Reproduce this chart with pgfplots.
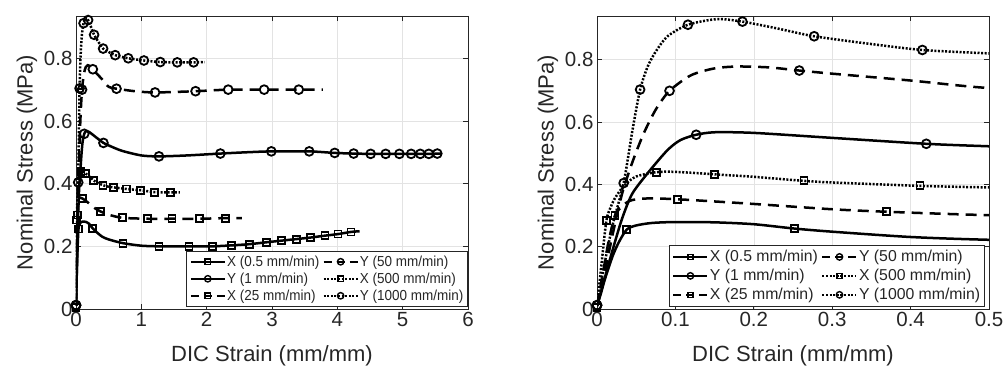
\documentclass[border=0pt]{standalone}
\usepackage{fontspec}
\setmainfont{Liberation Sans}
\newfontfamily\narrowfont[FakeStretch=0.93]{Liberation Sans}
\usepackage{pgfplots}
\pgfplotsset{compat=1.18}
\usepackage{pgfplotstable}
\definecolor{txt}{gray}{0.15}

% ---- data: line points ----
\pgfplotstableread{
x y
0 0.01
0.005 0.05
0.01 0.095
0.02 0.17
0.028 0.215
0.038 0.255
0.05 0.268
0.07 0.276
0.1 0.279
0.15 0.278
0.2 0.272
0.252 0.258
0.3 0.248
0.4 0.231
0.5 0.222
0.72 0.21
1.0 0.202
1.27 0.2
1.73 0.2
2.09 0.2
2.38 0.203
2.66 0.207
2.92 0.213
3.14 0.218
3.37 0.223
3.59 0.228
3.81 0.234
4.01 0.239
4.21 0.246
4.34 0.248
}\XaL
\pgfplotstableread{
x y
0 0.005
0.038 0.255
0.252 0.258
0.72 0.21
1.27 0.2
1.73 0.2
2.09 0.2
2.38 0.203
2.66 0.207
2.92 0.213
3.14 0.218
3.37 0.223
3.59 0.228
3.81 0.234
4.01 0.239
4.21 0.246
}\XaM

\pgfplotstableread{
x y
0 0.01
0.01 0.1
0.02 0.19
0.032 0.29
0.045 0.37
0.066 0.44
0.09 0.51
0.1065 0.542
0.1265 0.559
0.15 0.567
0.2 0.565
0.3 0.549
0.42 0.530
0.5 0.522
0.7 0.505
1.0 0.49
1.27 0.487
1.7 0.49
2.21 0.496
2.6 0.5
2.99 0.503
3.57 0.503
3.96 0.498
4.25 0.496
4.51 0.495
4.95 0.495
5.4 0.495
5.59 0.496
}\YaL
\pgfplotstableread{
x y
0 0.012
0.1265 0.559
0.42 0.530
1.27 0.487
2.21 0.496
2.99 0.503
3.57 0.503
3.96 0.498
4.25 0.496
4.51 0.495
4.74 0.495
4.95 0.495
5.13 0.495
5.27 0.495
5.40 0.495
5.53 0.496
}\YaM

\pgfplotstableread{
x y
0 0.01
0.005 0.08
0.01 0.15
0.015 0.22
0.023 0.30
0.03 0.325
0.04 0.345
0.05 0.352
0.07 0.355
0.103 0.352
0.15 0.345
0.2 0.337
0.3 0.32
0.369 0.312
0.5 0.301
0.71 0.291
1.1 0.288
1.47 0.288
1.89 0.288
2.29 0.29
2.54 0.29
}\XbL
\pgfplotstableread{
x y
0 0.005
0.023 0.30
0.103 0.352
0.369 0.312
0.71 0.291
1.1 0.288
1.47 0.288
1.89 0.288
2.29 0.29
}\XbM

\pgfplotstableread{
x y
0 0.01
0.01 0.12
0.02 0.24
0.032 0.37
0.045 0.47
0.059 0.56
0.075 0.64
0.0925 0.70
0.12 0.75
0.15 0.772
0.18 0.778
0.22 0.775
0.258 0.765
0.3 0.755
0.4 0.733
0.5 0.709
0.62 0.703
0.9 0.695
1.21 0.691
1.83 0.695
2.33 0.70
2.88 0.70
3.41 0.70
3.78 0.70
}\YbL
\pgfplotstableread{
x y
0 0.012
0.0925 0.70
0.258 0.765
0.62 0.703
1.21 0.691
1.83 0.695
2.33 0.70
2.88 0.70
3.41 0.70
}\YbM

\pgfplotstableread{
x y
0 0.01
0.006 0.15
0.012 0.284
0.018 0.33
0.024 0.36
0.035 0.397
0.05 0.425
0.076 0.439
0.1 0.44
0.15 0.432
0.2 0.424
0.264 0.411
0.3 0.406
0.412 0.395
0.5 0.39
0.58 0.388
0.77 0.383
0.99 0.379
1.2 0.373
1.45 0.372
1.59 0.372
}\XcL
\pgfplotstableread{
x y
0 0.005
0.012 0.284
0.076 0.439
0.15 0.432
0.264 0.411
0.412 0.395
0.58 0.388
0.77 0.383
0.99 0.379
1.2 0.373
1.45 0.372
}\XcM

\pgfplotstableread{
x y
0 0.01
0.01 0.15
0.02 0.27
0.034 0.404
0.045 0.57
0.055 0.704
0.065 0.78
0.076 0.83
0.09 0.875
0.116 0.912
0.153 0.93
0.1855 0.922
0.23 0.9
0.277 0.875
0.35 0.85
0.415 0.831
0.5 0.82
0.6 0.81
0.8 0.80
1.04 0.793
1.29 0.788
1.55 0.787
1.80 0.787
1.97 0.788
}\YcL
\pgfplotstableread{
x y
0 0.012
0.034 0.404
0.055 0.704
0.116 0.912
0.1855 0.922
0.277 0.875
0.415 0.831
0.6 0.81
0.8 0.80
1.04 0.793
1.29 0.788
1.55 0.787
1.80 0.787
}\YcM

\pgfplotsset{
  base/.style={
    scale only axis, width=392pt, height=293pt,
    ymin=0, ytick={0,0.2,0.4,0.6,0.8},
    grid=major, major grid style={line width=0.6pt, draw=gray!22},
    axis line style={line width=0.8pt, draw=txt},
    tick style={line width=0.7pt, draw=txt},
    major tick length=5pt, tick align=inside,
    tick label style={font=\fontsize{20.5}{24}\selectfont, text=txt},
    /pgf/number format/assume math mode=true,
    every axis label/.append style={font=\fontsize{22}{26}\selectfont, text=txt},
    xlabel={DIC Strain (mm/mm)},
    ylabel={Nominal Stress (MPa)},
    xlabel style={at={([yshift=-47pt]axis description cs:0.5,0)}, anchor=center},
    ylabel style={at={([xshift=-49pt]axis description cs:0,0.5)}, anchor=center},
    legend columns=2,
    legend cell align=left,
    legend image code/.code={\draw[mark repeat=2,mark phase=2,#1] plot coordinates {(0pt,0pt) (17pt,0pt) (34pt,0pt)};},
  },
  solidL/.style={black, line width=2.5pt, smooth, tension=0.45, forget plot},
  dashL/.style={black, line width=2.5pt, smooth, tension=0.45, dash pattern=on 11pt off 7pt, forget plot},
  dotL/.style={black, line width=2.5pt, smooth, tension=0.45, dash pattern=on 2pt off 1.6pt, forget plot},
  sqM/.style={only marks, mark=square, mark size=3.5pt, mark options={black, solid, line width=1.8pt}, forget plot},
  ciM/.style={only marks, mark=o, mark size=4.4pt, mark options={black, solid, line width=1.8pt}, forget plot},
  legSolid/.style={black, line width=2.3pt},
  legDash/.style={black, line width=2.3pt, dash pattern=on 8pt off 5pt},
  legDot/.style={black, line width=2.3pt, dash pattern=on 2pt off 1.6pt},
  legSq/.style={mark=square, mark size=2.6pt, mark options={solid, line width=1.4pt}},
  legCi/.style={mark=o, mark size=3.2pt, mark options={solid, line width=1.4pt}},
}

\newcommand{\legendimages}{%
  \addlegendimage{legSolid, legSq}\addlegendentry{X (0.5 mm/min)}
  \addlegendimage{legDash, legCi}\addlegendentry{Y (50 mm/min)}
  \addlegendimage{legSolid, legCi}\addlegendentry{Y (1 mm/min)}
  \addlegendimage{legDot, legSq}\addlegendentry{X (500 mm/min)}
  \addlegendimage{legDash, legSq}\addlegendentry{X (25 mm/min)}
  \addlegendimage{legDot, legCi}\addlegendentry{Y (1000 mm/min)}
}
\newcommand{\allplots}{%
  \addplot[solidL] table {\XaL};
  \addplot[sqM] table {\XaM};
  \addplot[solidL] table {\YaL};
  \addplot[ciM] table {\YaM};
  \addplot[dashL] table {\XbL};
  \addplot[sqM] table {\XbM};
  \addplot[dashL] table {\YbL};
  \addplot[ciM] table {\YbM};
  \addplot[dotL] table {\XcL};
  \addplot[sqM] table {\XcM};
  \addplot[dotL] table {\YcL};
  \addplot[ciM] table {\YcM};
}

\begin{document}
\begin{tikzpicture}
\path[use as bounding box] (0,0) rectangle (1005pt,371pt);
\begin{axis}[base, at={(76pt,62pt)}, anchor=south west,
  ymax=0.935,
  xmin=0, xmax=6, xtick={0,1,2,3,4,5,6},
  legend style={at={(axis description cs:1,0)}, anchor=south east, yshift=2.3pt,
    draw=txt, line width=0.8pt, fill=white, text=txt,
    font=\narrowfont\fontsize{14.5}{16}\selectfont,
    nodes={inner xsep=1.2pt, inner ysep=2.5pt},
    /tikz/every even column/.append style={column sep=2pt}},
]
\legendimages
\allplots
\end{axis}
\begin{axis}[base, at={(597pt,62pt)}, anchor=south west,
  ymax=0.94,
  xmin=0, xmax=0.5, xtick={0,0.1,0.2,0.3,0.4,0.5},
  legend style={at={(axis description cs:1,0)}, anchor=south east, yshift=2.3pt, xshift=-4pt,
    draw=txt, line width=0.8pt, fill=white, text=txt,
    font=\fontsize{15.8}{18}\selectfont,
    nodes={inner xsep=1.4pt, inner ysep=3.0pt},
    /tikz/every even column/.append style={column sep=2pt}},
]
\legendimages
\allplots
\end{axis}
\end{tikzpicture}
\end{document}
